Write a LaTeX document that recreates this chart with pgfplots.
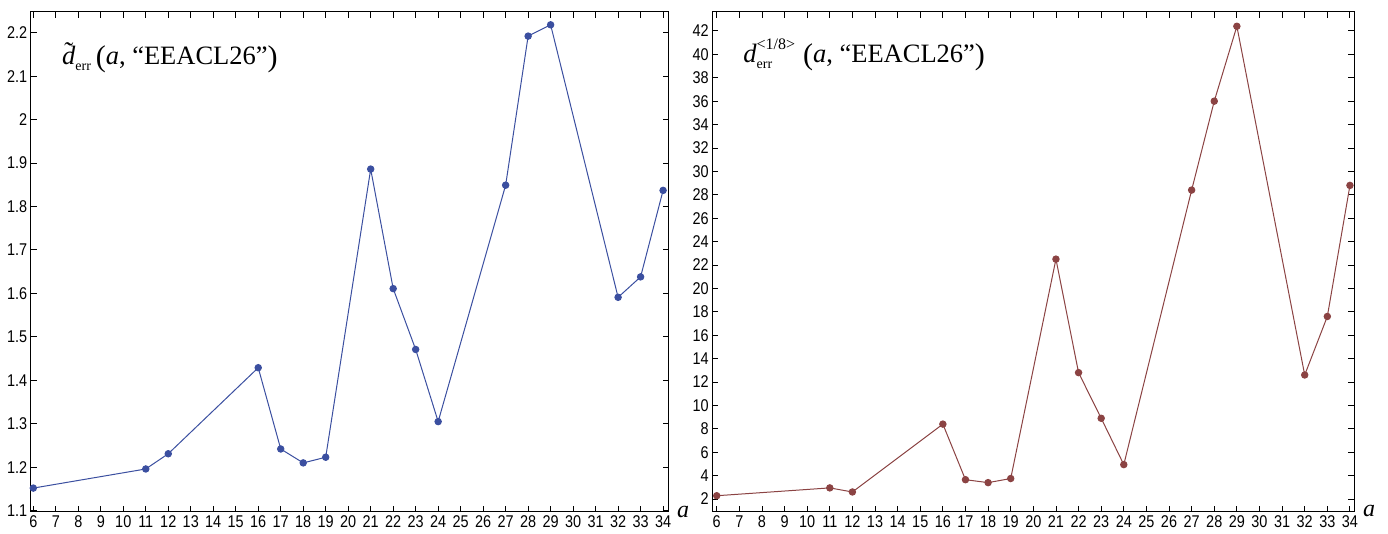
\documentclass[border=0pt]{standalone}
\usepackage{fontspec}
\setmainfont{Liberation Serif}
\newfontfamily\tickfont[FakeStretch=0.85]{Liberation Sans}
\usepackage{pgfplots}
\pgfplotsset{compat=1.18}
\definecolor{cblue}{RGB}{59,79,160}
\definecolor{cred}{RGB}{139,67,67}
\newcommand{\scr}{\fontsize{14}{14}\selectfont}
\newcommand{\bp}[1]{\raisebox{-0.06em}{\fontsize{30}{30}\selectfont#1}}
\pgfplotsset{
  myaxis/.style={
    scale only axis, height=500pt, anchor=south west,
    axis line style={line width=1pt},
    tick style={line width=0.9pt, black},
    major tick length=6pt,
    xtick={6,...,34},
    xticklabel={\pgfmathprintnumber{\tick}},
    /pgf/number format/assume math mode=true,
    ticklabel style={font=\fontsize{17}{17}\selectfont\tickfont},
    tick pos=both,
  }
}
\begin{document}
\begin{tikzpicture}
\path[use as bounding box] (0,0) rectangle (1388pt,534pt);
\begin{axis}[myaxis, at={(30.7pt,22pt)}, width=638pt,
  xmin=5.884, xmax=34.25, ymin=1.097, ymax=2.2475,
  ytick={1.1,1.2,1.3,1.4,1.5,1.6,1.7,1.8,1.9,2.0,2.1,2.2},
  yticklabels={1.1,1.2,1.3,1.4,1.5,1.6,1.7,1.8,1.9,2,2.1,2.2}]
\addplot[cblue, line width=1pt, mark=*, mark size=3.2pt] coordinates {
(6,1.152) (11,1.196) (12,1.231) (16,1.429) (17,1.242) (18,1.210) (19,1.223)
(21,1.886) (22,1.611) (23,1.471) (24,1.305) (27,1.849) (28,2.192) (29,2.218)
(32,1.591) (33,1.638) (34,1.837)};
\node[anchor=base west, inner sep=0pt, font=\fontsize{26.5}{30}\selectfont] at (rel axis cs:0.049,0.894)
{\textit{d}\makebox[0pt][r]{\raisebox{0.17em}{\textit{˜}}\hspace{0.08em}}\raisebox{-0.2em}{\scr err}\hspace{0.18em}\bp{(}\textit{a}, “EEACL26”\bp{)}};
\end{axis}
\node[anchor=base west, inner sep=0pt, font=\fontsize{24}{24}\selectfont] at (677pt,16pt) {\textit{a}};
\begin{axis}[myaxis, at={(712.3pt,22pt)}, width=641.7pt,
  xmin=5.805, xmax=34.18, ymin=0.89, ymax=43.62,
  ytick={2,4,...,42},
  yticklabels={2,4,6,8,10,12,14,16,18,20,22,24,26,28,30,32,34,36,38,40,42}]
\addplot[cred, line width=1pt, mark=*, mark size=3.2pt] coordinates {
(6,2.28) (11,2.95) (12,2.6) (16,8.4) (17,3.65) (18,3.4) (19,3.75)
(21,22.5) (22,12.8) (23,8.9) (24,4.94) (27,28.4) (28,36.0) (29,42.4)
(32,12.6) (33,17.6) (34,28.8)};
\node[anchor=base west, inner sep=0pt, font=\fontsize{26.5}{30}\selectfont] at (rel axis cs:0.048,0.898)
{\textit{d}\makebox[0pt][l]{\raisebox{-0.2em}{\scr err}}\raisebox{0.5em}{\fontsize{16}{16}\selectfont<1/8>}\hspace{0.3em}\bp{(}\textit{a}, “EEACL26”\bp{)}};
\end{axis}
\node[anchor=base west, inner sep=0pt, font=\fontsize{24}{24}\selectfont] at (1363pt,17pt) {\textit{a}};
\end{tikzpicture}
\end{document}
